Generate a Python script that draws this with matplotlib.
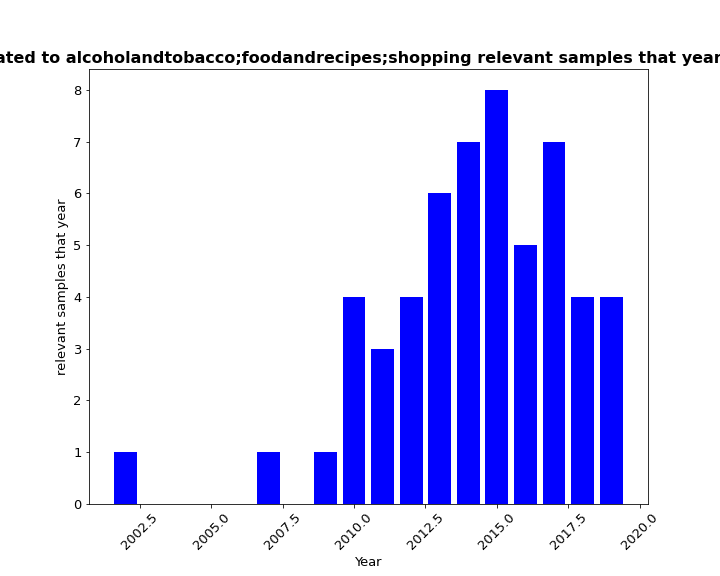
import matplotlib
matplotlib.use('Agg')
import matplotlib.pyplot as plt

years = [2002, 2007, 2009, 2010, 2011, 2012, 2013, 2014, 2015, 2016, 2017, 2018, 2019]
counts = [1, 1, 1, 4, 3, 4, 6, 7, 8, 5, 7, 4, 4]
topics = 'alcoholandtobacco;foodandrecipes;shopping'

fig, ax = plt.subplots(figsize=(10, 8), dpi=72)
fig.subplots_adjust(left=0.123, right=0.9, bottom=0.125, top=0.88)
ax.bar(years, counts, color='blue')
# title is wider than the figure, only the middle part shows
ax.set_title('Papers related to ' + topics + ' relevant samples that year',
             fontsize=16, fontweight='bold', x=1.131, ha='right')
ax.set_xlabel('Year', fontsize=13)
ax.set_ylabel('relevant samples that year', fontsize=13)
ax.tick_params(axis='both', labelsize=13)
plt.xticks(rotation=45)
fig.savefig('out.png')
